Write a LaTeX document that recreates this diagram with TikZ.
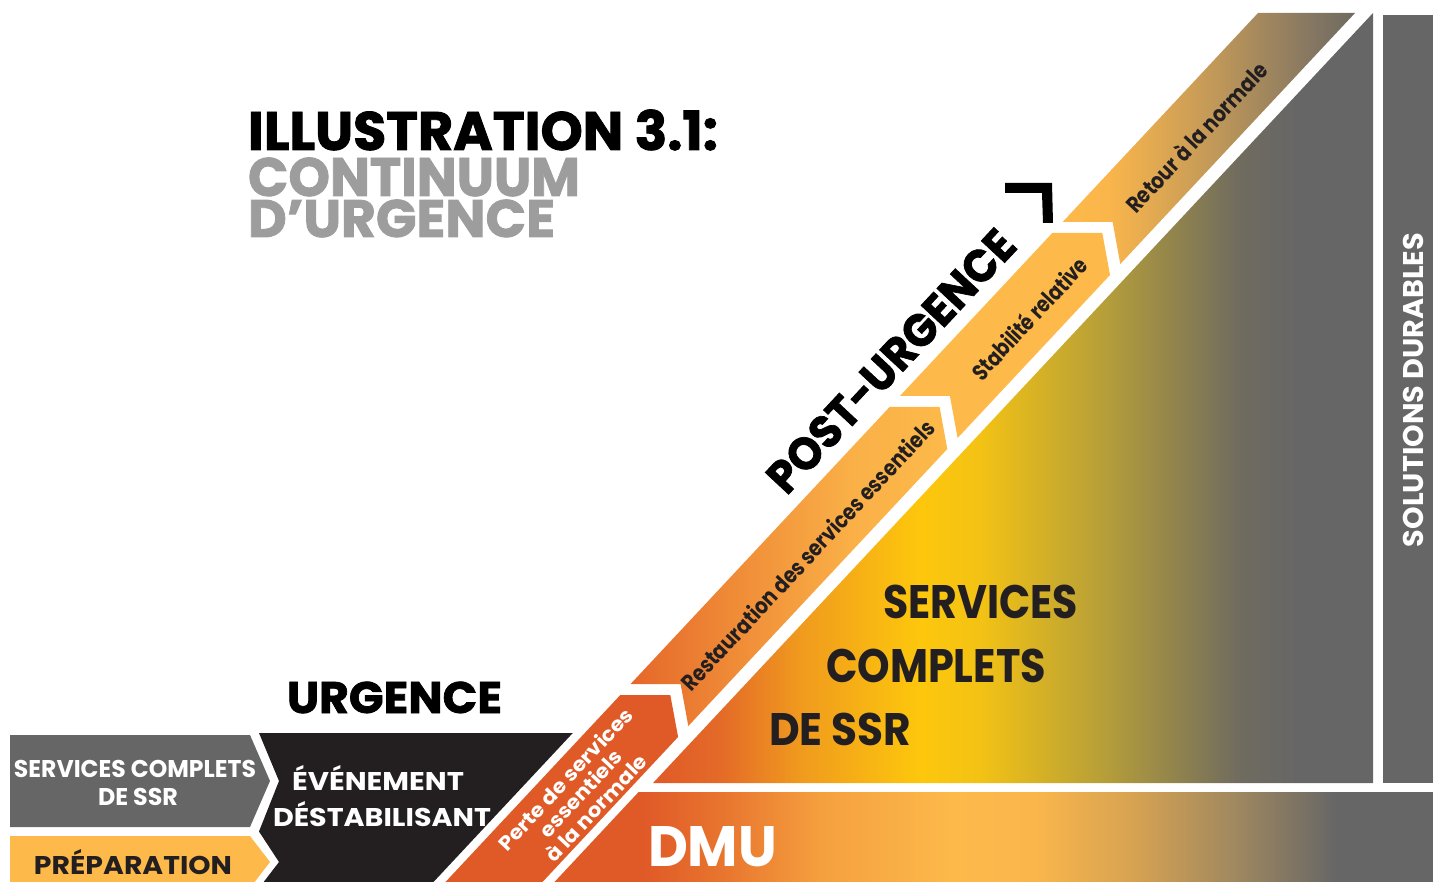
\documentclass[tikz,border=0pt]{standalone}
\usepackage{fontspec}
\setmainfont{Poppins}
\newfontfamily\heavy{Poppins}[BoldFeatures={FakeBold=1.6}]
\usepackage{graphicx}

\definecolor{ored}{HTML}{E05A28}
\definecolor{lorange}{HTML}{FDB94A}
\definecolor{dgray}{HTML}{666666}
\definecolor{blk}{HTML}{231F20}
\definecolor{tgray}{HTML}{9D9D9D}
% triangle
\definecolor{ta}{HTML}{E46A28}
\definecolor{tb}{HTML}{F09A1E}
\definecolor{tc}{HTML}{FDC70C}
\definecolor{td}{HTML}{F3C214}
\definecolor{te}{HTML}{B8A038}
\definecolor{tf}{HTML}{6F6B5F}
% dmu
\definecolor{da}{HTML}{E8752E}
\definecolor{db}{HTML}{F5A03F}
\definecolor{dc}{HTML}{FAB64B}
\definecolor{dd}{HTML}{D6A252}
\definecolor{de}{HTML}{A08860}
% restauration
\definecolor{ra}{HTML}{E5672A}
\definecolor{rb}{HTML}{F08E38}
\definecolor{rc}{HTML}{FAB047}
% retour
\definecolor{ea}{HTML}{FBB64B}
\definecolor{eb}{HTML}{C49A58}
\definecolor{ec}{HTML}{857762}
\definecolor{ed}{HTML}{6E6A60}

\pgfdeclarehorizontalshading{trishade}{100bp}{%
 color(0bp)=(ored); color(25bp)=(ored); color(29.65bp)=(ta); color(35.2bp)=(tb);
 color(43.5bp)=(tc); color(47.7bp)=(td); color(56bp)=(te); color(65.8bp)=(tf);
 color(69.9bp)=(dgray); color(75bp)=(dgray); color(100bp)=(dgray)}
\pgfdeclarehorizontalshading{dmushade}{100bp}{%
 color(0bp)=(ored); color(30.5bp)=(ored); color(34.8bp)=(da); color(40.4bp)=(db);
 color(47.7bp)=(lorange); color(52.3bp)=(dc); color(57.9bp)=(dd); color(63.5bp)=(de);
 color(69.2bp)=(dgray); color(75bp)=(dgray); color(100bp)=(dgray)}
\pgfdeclarehorizontalshading{restshade}{100bp}{%
 color(0bp)=(ra); color(25bp)=(ra); color(42.5bp)=(rb); color(60bp)=(rc);
 color(75bp)=(lorange); color(100bp)=(lorange)}
\pgfdeclarehorizontalshading{retshade}{100bp}{%
 color(0bp)=(lorange); color(25bp)=(lorange); color(32.5bp)=(ea); color(50bp)=(eb);
 color(67.5bp)=(ec); color(75bp)=(ed); color(100bp)=(ed)}

\newlength\fitW
\newlength\fitH
\newcommand\fit[3]{%
  \settowidth\fitW{#3}%
  \settoheight\fitH{X}%
  \pgfmathsetmacro\fitsx{#1/\fitW}%
  \pgfmathsetmacro\fitsy{#2/\fitH}%
  \global\let\lastsx\fitsx\global\let\lastsy\fitsy
  \scalebox{\fitsx}[\fitsy]{#3}}
\newcommand\refit[1]{\scalebox{\lastsx}[\lastsy]{#1}}

\begin{document}
\begin{tikzpicture}[x=1pt,y=-1pt,
  lbl/.style={inner sep=0pt, outer sep=0pt, font=\bfseries},
  hvy/.style={inner sep=0pt, outer sep=0pt, font=\heavy\bfseries},
  bandtxt/.style={lbl, rotate=47, text=blk}]
\clip (0,0) rectangle (1433,882);

% left boxes
\fill[dgray] (10,735) -- (250,735) -- (270,781) -- (250,827) -- (10,827) -- cycle;
\fill[lorange] (10,836) -- (250,836) -- (270,862) -- (250,888) -- (10,888) -- cycle;
% black urgence region
\fill[blk] (259,733) -- (572.8,733) -- (426,890) -- (257.5,890) -- (279,862)
  -- (259,831.5) -- (279,781) -- cycle;

% band segments
\fill[ored] (438,890) -- (620.3,695) -- (670.3,695) -- (678.1,737) -- (535,890) -- cycle;
\shade[shading=restshade] (630.6,684) -- (680.6,684) -- (688.3,726) -- (947.3,449)
  -- (939.6,407) -- (889.6,407) -- cycle;
\fill[lorange] (899.9,396) -- (949.9,396) -- (957.6,438) -- (1110,275)
  -- (1102.3,233) -- (1052.3,233) -- cycle;
\shade[shading=retshade] (1062.6,222) -- (1112.6,222) -- (1120.3,264) -- (1355,13)
  -- (1258,13) -- cycle;

% big triangle
\shade[shading=trishade] (653.05,783) -- (1373,783) -- (1373,13) -- cycle;
% DMU band
\shade[shading=dmushade] (638.6,792) -- (1440,792) -- (1440,890) -- (547,890) -- cycle;
% solutions durables column
\fill[dgray] (1383,15) rectangle (1440,783);

% corner mark of post-urgence
\fill[black] (1005,183) -- (1052,183) -- (1053,223) -- (1043,223) -- (1042,193)
  -- (1005,193) -- cycle;

% title
\node[hvy, anchor=base west, text=black] (title) at (248,150) {\fit{470}{38}{ILLUSTRATION 3.1:}};
\node[hvy, anchor=base west, text=tgray] (title2) at (248,196) {\fit{332}{38}{CONTINUUM}};
\node[hvy, anchor=base west, text=tgray] (title3) at (248,237) {\fit{307}{37}{D’URGENCE}};

% headings
\node[hvy, anchor=base west, text=black] (urg) at (287,713) {\fit{215}{31}{URGENCE}};
\node[hvy, rotate=47, text=black] (post) at (891,361) {\fit{340}{32}{POST-URGENCE}};

% left box labels
\node[lbl, anchor=base west, text=white] (scs1) at (14,777) {\fit{242}{17}{SERVICES COMPLETS}};
\node[lbl, anchor=base west, text=white] (scs2) at (98,805) {\fit{80}{17}{DE SSR}};
\node[lbl, anchor=base west, text=blk] (prep) at (34,874) {\fit{198}{18}{PRÉPARATION}};
\node[lbl, anchor=base west, text=white] (ev1) at (292,790) {\fit{172}{18}{ÉVÉNEMENT}};
\node[lbl, anchor=base west, text=white] (ev2) at (273,826) {\fit{218}{18}{DÉSTABILISANT}};

% band labels
\node[lbl, rotate=47, text=white] (perte1) at (565,779) {\fit{186}{14}{Perte de services}};
\node[lbl, rotate=47, text=white] (perte2) at (580.4,793.3) {\refit{essentiels}};
\node[lbl, rotate=47, text=white] (perte3) at (595.7,807.6) {\refit{à la normale}};
\node[bandtxt] (rest) at (807.5,555) {\fit{359}{16}{Restauration des services essentiels}};
\node[bandtxt] (stab) at (1029,318) {\fit{158}{16}{Stabilité relative}};
\node[bandtxt] (ret) at (1196,137) {\fit{195}{16}{Retour à la normale}};

% triangle labels
\node[lbl, anchor=base west, text=blk] (sv1) at (883,618) {\fit{195}{33}{SERVICES}};
\node[lbl, anchor=base west, text=blk] (sv2) at (826,682) {\fit{220}{33}{COMPLETS}};
\node[lbl, anchor=base west, text=blk] (sv3) at (769,745) {\fit{142}{32}{DE SSR}};

% DMU and solutions
\node[lbl, anchor=base west, text=white] (dmu) at (648,866) {\fit{129}{40}{DMU}};
\node[lbl, rotate=90, text=white] (sol) at (1413,390) {\fit{314}{20}{SOLUTIONS DURABLES}};
\end{tikzpicture}
\end{document}
